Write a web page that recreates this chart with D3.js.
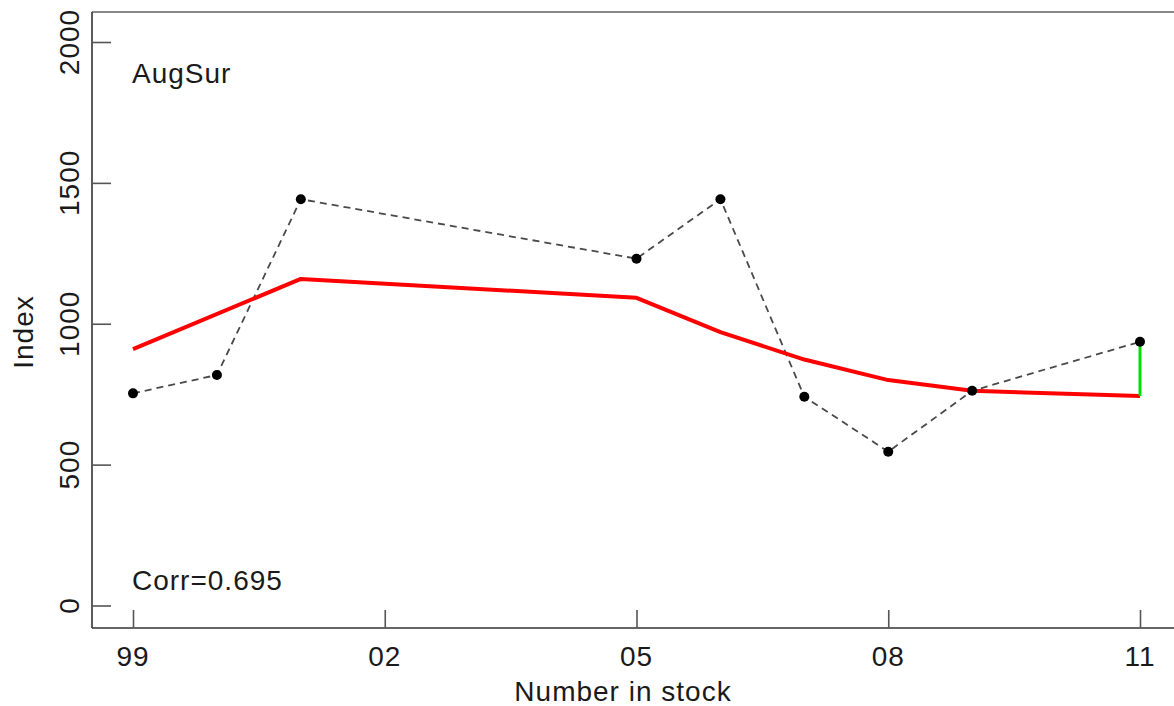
<!DOCTYPE html>
<html>
<head>
<meta charset="utf-8">
<script src="https://cdn.jsdelivr.net/npm/d3@7"></script>
<style>
  html, body { margin: 0; padding: 0; background: #fff; }
  svg text { font-family: "Liberation Sans", Arial, sans-serif; font-size: 28px; letter-spacing: 1px; fill: #1a1a1a; }
</style>
</head>
<body>
<svg id="chart" width="1174" height="706"></svg>
<script>
// Observed index by year
const years = [1999, 2000, 2001, 2005, 2006, 2007, 2008, 2009, 2011];
const observed = [753, 818, 1442, 1231, 1442, 741, 546, 762, 936];

// Smoothed trend
const trendYears = [1999, 2001, 2005, 2006, 2007, 2008, 2009, 2011];
const trend = [910, 1159, 1092, 970, 873, 800, 762, 744];

const xTicks = [1999, 2002, 2005, 2008, 2011];
const xTickLabels = ["99", "02", "05", "08", "11"];
const yTicks = [0, 500, 1000, 1500, 2000];

const panelLabel = "AugSur";
const corrLabel = "Corr=0.695";
const xTitle = "Number in stock";
const yTitle = "Index";

const svg = d3.select("#chart");

// Plot frame
const frame = { left: 92, top: 12, right: 1180, bottom: 628 };

const x = d3.scaleLinear().domain([1999, 2011]).range([133, 1140]);
const y = d3.scaleLinear().domain([0, 2000]).range([605.5, 42]);

// Box (right side runs off the canvas)
svg.append("line").attr("x1", frame.left).attr("x2", frame.right)
  .attr("y1", frame.top).attr("y2", frame.top)
  .attr("stroke", "#888").attr("stroke-width", 2);
svg.append("line").attr("x1", frame.left).attr("x2", frame.right)
  .attr("y1", frame.bottom).attr("y2", frame.bottom)
  .attr("stroke", "#333").attr("stroke-width", 1.6);
svg.append("line").attr("x1", frame.left).attr("x2", frame.left)
  .attr("y1", frame.top).attr("y2", frame.bottom)
  .attr("stroke", "#333").attr("stroke-width", 1.6);

// Y axis: inward ticks, rotated labels
const yAxis = d3.axisRight(y).tickValues(yTicks).tickSize(19).tickFormat("");
const yg = svg.append("g").attr("transform", `translate(${frame.left},0)`).call(yAxis);
yg.select(".domain").remove();
yg.selectAll(".tick line").attr("stroke", "#555").attr("stroke-width", 1.6);
svg.append("g").selectAll("text").data(yTicks).join("text")
  .attr("transform", d => `translate(79,${y(d)}) rotate(-90)`)
  .attr("text-anchor", "middle")
  .text(d => d);

// X axis: inward ticks
const xAxis = d3.axisTop(x).tickValues(xTicks).tickSize(18).tickFormat("");
const xg = svg.append("g").attr("transform", `translate(0,${frame.bottom})`).call(xAxis);
xg.select(".domain").remove();
xg.selectAll(".tick line").attr("stroke", "#555").attr("stroke-width", 1.6);
svg.append("g").selectAll("text").data(xTicks).join("text")
  .attr("x", d => x(d)).attr("y", 666)
  .attr("text-anchor", "middle")
  .text((d, i) => xTickLabels[i]);

// Axis titles
svg.append("text").attr("x", 623).attr("y", 701).attr("text-anchor", "middle").text(xTitle);
svg.append("text").attr("transform", "translate(33,332) rotate(-90)")
  .attr("text-anchor", "middle").text(yTitle);

// Observed series: dashed line with points
const obs = years.map((yr, i) => ({ yr, v: observed[i] }));
const line = d3.line().x(d => x(d.yr)).y(d => y(d.v));
svg.append("path").datum(obs).attr("d", line)
  .attr("fill", "none").attr("stroke", "#4a4a4a").attr("stroke-width", 1.8)
  .attr("stroke-dasharray", "7,5");

// Trend line
const tr = trendYears.map((yr, i) => ({ yr, v: trend[i] }));
svg.append("path").datum(tr).attr("d", line)
  .attr("fill", "none").attr("stroke", "#ff0000").attr("stroke-width", 4)
  .attr("stroke-linejoin", "round");

// Residual at the last year
const lastObs = obs[obs.length - 1];
const lastTr = tr[tr.length - 1];
svg.append("line")
  .attr("x1", x(lastObs.yr)).attr("x2", x(lastTr.yr))
  .attr("y1", y(lastObs.v)).attr("y2", y(lastTr.v))
  .attr("stroke", "#00e000").attr("stroke-width", 3);

svg.append("g").selectAll("circle").data(obs).join("circle")
  .attr("cx", d => x(d.yr)).attr("cy", d => y(d.v)).attr("r", 5)
  .attr("fill", "#000");

// Panel annotations
svg.append("text").attr("x", 132).attr("y", 83).text(panelLabel);
svg.append("text").attr("x", 132).attr("y", 590).text(corrLabel);
</script>
</body>
</html>
